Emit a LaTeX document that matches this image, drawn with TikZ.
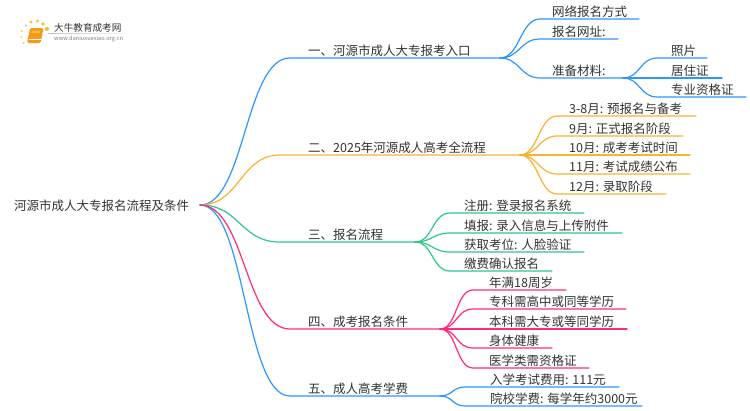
\documentclass[tikz,border=0pt]{standalone}
\usepackage{fontspec}
\setmainfont{Noto Sans CJK SC}
\usetikzlibrary{calc}
\definecolor{cblue}{HTML}{2E96FF}
\definecolor{corange}{HTML}{FBB131}
\definecolor{cgreen}{HTML}{2DC987}
\definecolor{cpink}{HTML}{FF2A7C}
\definecolor{ctext}{HTML}{333333}
\definecolor{cdot}{HTML}{F9BE3C}
\definecolor{cbook}{HTML}{F59A1B}
\tikzset{
  lbl/.style={anchor=west,inner sep=0pt,text=ctext,font=\fontsize{12.5}{12.5}\selectfont},
  wire/.style={line width=1.2pt,line cap=round},
}
% \leaf{name}{junction}{start x}{end x}{y}{curve handle}{text x}{colour}{text}
\newcommand{\leaf}[9]{%
  \coordinate (#1-s) at (#3,#5);
  \coordinate (#1-e) at (#4,#5);
  \draw[wire,#8] (#2) to[out=0,in=180,out distance=#6pt,in distance=#6pt] (#1-s) -- (#1-e);
  \node[lbl] (#1) at (#7,#5-7) {#9};
}
\begin{document}
\begin{tikzpicture}[x=1pt,y=-1pt]
\useasboundingbox (0,0) rectangle (750,410);
\fill[white] (0,0) rectangle (750,410);
% logo
\foreach \px/\py/\pr in {23.5/43/.8,21.5/37/.9,22/31/1,26/25.5/1.2,31/22/1.6,37.5/21/1.7,43/24/1.8,47/29/2.1}
  \fill[cdot] (\px,\py) circle (\pr);
\fill[cbook,rounded corners=1.5pt] (30,28) -- (43.5,28) -- (40.5,43) -- (27,43) -- cycle;
\draw[white,line width=.5pt] (28.5,39.7) -- (40.5,39.7);
\fill[cdot] (32,31) -- (40,31) -- (39.5,33) -- (31.5,33) -- cycle;
\node[anchor=west,inner sep=0pt,text=ctext,font=\fontsize{9.6}{9.6}\selectfont] (logotitle) at (54,27.5) {大牛教育成考网};
\node[anchor=west,inner sep=0pt,text=gray,font=\fontsize{5.7}{5.7}\selectfont] (logourl) at (54,39) {www.daniuxuexiao.org.cn};
\shade[left color=gray!50,right color=white] (48,33) rectangle (133,33.6);
% root
\coordinate (root) at (200,205);
\node[lbl] (roottext) at (14,206) {河源市成人大专报名流程及条件};
% main branches
\leaf{b5}{root}{290}{440}{396}{46}{308}{cblue}{五、成人高考学费}
\leaf{b1}{root}{290}{500}{58}{45}{308}{cblue}{一、河源市成人大专报考入口}
\leaf{b2}{root}{280}{520}{155}{40}{308}{corange}{二、2025年河源成人高考全流程}
\leaf{b3}{root}{280}{415}{242}{40}{308}{cgreen}{三、报名流程}
\leaf{b4}{root}{290}{440}{329}{45}{308}{cpink}{四、成考报名条件}
% group 1
\leaf{a1}{b1-e}{540}{639}{19}{20}{552}{cblue}{网络报名方式}
\leaf{a2}{b1-e}{540}{618}{39}{20}{552}{cblue}{报名网址:}
\leaf{a3}{b1-e}{540}{623}{78}{20}{552}{cblue}{准备材料:}
\leaf{a31}{a3-e}{657}{707}{58}{17}{671}{cblue}{照片}
\leaf{a32}{a3-e}{657}{722}{78}{17}{671}{cblue}{居住证}
\leaf{a33}{a3-e}{657}{746}{97}{17}{671}{cblue}{专业资格证}
% group 2
\leaf{c1}{b2-e}{557}{696}{116}{18}{569}{corange}{3-8月: 预报名与备考}
\leaf{c2}{b2-e}{557}{683}{136}{18}{569}{corange}{9月: 正式报名阶段}
\leaf{c3}{b2-e}{557}{690}{155}{18}{569}{corange}{10月: 成考考试时间}
\leaf{c4}{b2-e}{557}{690}{174}{18}{569}{corange}{11月: 考试成绩公布}
\leaf{c5}{b2-e}{557}{666}{194}{18}{569}{corange}{12月: 录取阶段}
% group 3
\leaf{d1}{b3-e}{450}{584}{213}{18}{464}{cgreen}{注册: 登录报名系统}
\leaf{d2}{b3-e}{450}{622}{233}{18}{464}{cgreen}{填报: 录入信息与上传附件}
\leaf{d3}{b3-e}{450}{584}{252}{18}{464}{cgreen}{获取考位: 人脸验证}
\leaf{d4}{b3-e}{450}{552}{271}{18}{464}{cgreen}{缴费确认报名}
% group 4
\leaf{e1}{b4-e}{473}{566}{290}{17}{489}{cpink}{年满18周岁}
\leaf{e2}{b4-e}{473}{626}{309}{17}{489}{cpink}{专科需高中或同等学历}
\leaf{e3}{b4-e}{473}{627}{329}{17}{489}{cpink}{本科需大专或等同学历}
\leaf{e4}{b4-e}{473}{552}{348}{17}{489}{cpink}{身体健康}
\leaf{e5}{b4-e}{473}{589}{368}{17}{489}{cpink}{医学类需资格证}
% group 5
\leaf{f1}{b5-e}{465}{619}{387}{13}{490}{cblue}{入学考试费用: 111元}
\leaf{f2}{b5-e}{465}{642}{406}{13}{490}{cblue}{院校学费: 每学年约3000元}
\end{tikzpicture}
\end{document}
